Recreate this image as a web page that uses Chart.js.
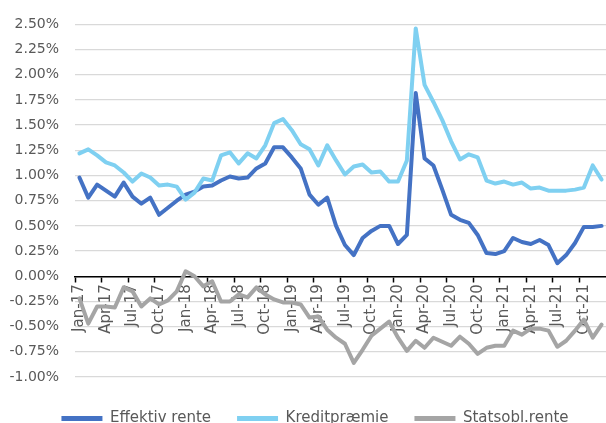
<!DOCTYPE html>
<html lang="da">
<head>
  <meta charset="UTF-8">
  <title>Rente</title>
  <script src="https://cdn.jsdelivr.net/npm/chart.js"></script>
  <style>
    html, body { margin: 0; padding: 0; background: #fff; }
    #wrap { width: 606px; height: 423px; overflow: hidden; }
    canvas { display: block; }
  </style>
</head>
<body>
  <div id="wrap"><canvas id="chart" width="630" height="436"></canvas></div>

  <script>
    // Måneder Jan-17 .. Dec-21
    const months = ['Jan', 'Feb', 'Mar', 'Apr', 'May', 'Jun', 'Jul', 'Aug', 'Sep', 'Oct', 'Nov', 'Dec'];
    const years = ['17', '18', '19', '20', '21'];
    const labels = years.flatMap(y => months.map(m => m + '-' + y));

    // Værdier i procent
    const effektivRente = [
      0.98, 0.78, 0.91, 0.85, 0.79, 0.93, 0.79, 0.72, 0.78, 0.61, 0.68, 0.75,
      0.81, 0.84, 0.89, 0.90, 0.95, 0.99, 0.97, 0.98, 1.07, 1.12, 1.28, 1.28,
      1.18, 1.07, 0.81, 0.71, 0.78, 0.50, 0.31, 0.21, 0.38, 0.45, 0.50, 0.50,
      0.32, 0.41, 1.82, 1.17, 1.10, 0.86, 0.61, 0.56, 0.53, 0.41, 0.23, 0.22,
      0.25, 0.38, 0.34, 0.32, 0.36, 0.31, 0.13, 0.21, 0.33, 0.49, 0.49, 0.50
    ];
    const kreditpraemie = [
      1.22, 1.26, 1.20, 1.13, 1.10, 1.03, 0.94, 1.02, 0.98, 0.90, 0.91, 0.89,
      0.76, 0.83, 0.97, 0.95, 1.20, 1.23, 1.12, 1.22, 1.17, 1.30, 1.52, 1.56,
      1.45, 1.31, 1.26, 1.10, 1.30, 1.15, 1.01, 1.09, 1.11, 1.03, 1.04, 0.94,
      0.94, 1.15, 2.46, 1.90, 1.73, 1.55, 1.34, 1.16, 1.21, 1.18, 0.95, 0.92,
      0.94, 0.91, 0.93, 0.87, 0.88, 0.85, 0.85, 0.85, 0.86, 0.88, 1.10, 0.96
    ];
    const statsoblRente = [
      -0.22, -0.47, -0.30, -0.30, -0.31, -0.11, -0.15, -0.30, -0.22, -0.28, -0.24, -0.15,
       0.05,  0.00, -0.10, -0.05, -0.25, -0.25, -0.18, -0.21, -0.11, -0.18, -0.23, -0.26,
      -0.26, -0.28, -0.41, -0.40, -0.53, -0.61, -0.67, -0.86, -0.73, -0.59, -0.52, -0.45,
      -0.61, -0.74, -0.64, -0.71, -0.61, -0.65, -0.69, -0.60, -0.67, -0.77, -0.71, -0.69,
      -0.69, -0.54, -0.58, -0.52, -0.52, -0.54, -0.70, -0.64, -0.54, -0.43, -0.61, -0.48
    ];

    const yTicks = { min: -1, max: 2.5, step: 0.25 };

    const FONT = 'DejaVu Sans';
    const GREY_TEXT = '#595959';

    function lineSet(label, data, color, order) {
      return {
        label: label,
        data: data,
        borderColor: color,
        backgroundColor: color,
        borderWidth: 4,
        pointRadius: 0,
        tension: 0,
        borderJoinStyle: 'round',
        borderCapStyle: 'round',
        order: order
      };
    }

    // flyt legenden lidt til højre, som i Excel-grafen
    const legendShift = {
      id: 'legendShift',
      afterLayout(chart) {
        if (chart.legend) {
          chart.legend.left += 12;
          chart.legend.right += 12;
        }
      }
    };

    new Chart(document.getElementById('chart').getContext('2d'), {
      type: 'line',
      data: {
        labels: labels,
        datasets: [
          lineSet('Effektiv rente', effektivRente, '#4472C4', 3),
          lineSet('Kreditpræmie', kreditpraemie, '#7FD0F1', 2),
          lineSet('Statsobl.rente', statsoblRente, '#A5A5A5', 1)
        ]
      },
      plugins: [legendShift],
      options: {
        responsive: false,
        animation: false,
        devicePixelRatio: 1,
        // canvas er bredere end vinduet; højre kant beskæres ved 606 px
        layout: { padding: { top: 23, right: 24, bottom: 0, left: 0 } },
        plugins: {
          tooltip: { enabled: false },
          legend: {
            position: 'bottom',
            title: { display: true, text: '', font: { size: 5 }, padding: 1 },
            labels: {
              font: { family: FONT, size: 15 },
              color: GREY_TEXT,
              boxWidth: 41,
              boxHeight: 5,
              padding: 26,
              useBorderRadius: true,
              borderRadius: 2.5,
              sort: (a, b) => a.datasetIndex - b.datasetIndex,
              generateLabels: chart => chart.data.datasets.map((ds, i) => ({
                text: ds.label,
                fillStyle: ds.borderColor,
                strokeStyle: ds.borderColor,
                lineWidth: 0,
                fontColor: GREY_TEXT,
                datasetIndex: i,
                hidden: false
              }))
            }
          }
        },
        scales: {
          x: {
            type: 'category',
            position: { y: 0 },
            offset: true,
            afterFit: s => { s.paddingLeft = 0; s.paddingRight = 0; },
            grid: {
              offset: true,
              drawOnChartArea: false,
              drawTicks: true,
              tickLength: 5,
              tickWidth: 1.5,
              tickColor: ctx => ctx.index % 3 === 0 ? '#000' : 'rgba(0,0,0,0)'
            },
            border: { display: true, color: '#000', width: 1.5 },
            ticks: {
              autoSkip: false,
              minRotation: 90,
              maxRotation: 90,
              padding: 3,
              color: GREY_TEXT,
              font: { family: FONT, size: 15 },
              callback: function (v, i) { return i % 3 === 0 ? this.getLabelForValue(v) : ''; }
            }
          },
          y: {
            min: yTicks.min,
            max: yTicks.max,
            afterFit: s => { s.width = 75; },
            border: { display: false },
            grid: { color: '#D9D9D9', lineWidth: 1.3, drawTicks: false },
            ticks: {
              stepSize: yTicks.step,
              padding: 16,
              color: GREY_TEXT,
              font: { family: FONT, size: 14 },
              callback: v => v.toFixed(2) + '%'
            }
          }
        }
      }
    });
  </script>
</body>
</html>
